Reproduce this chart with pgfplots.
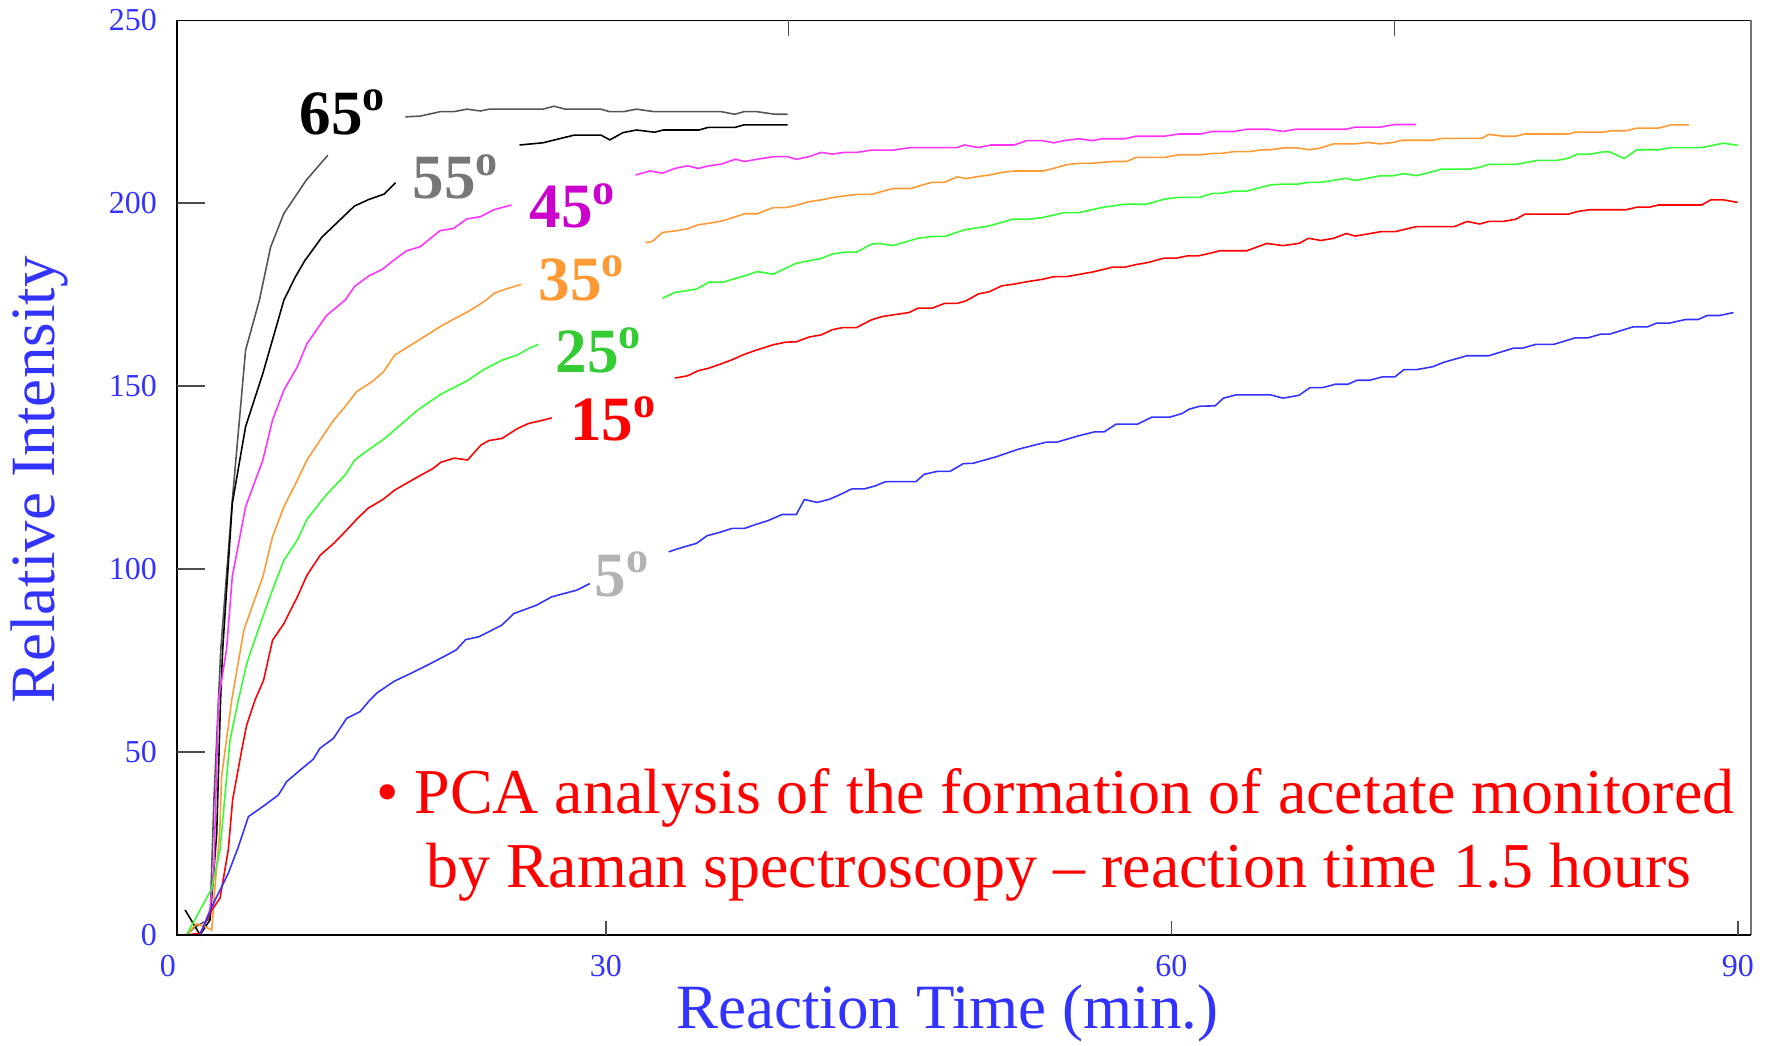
\documentclass[border=0pt]{standalone}
\usepackage{fontspec}
\setmainfont{Liberation Serif}
\usepackage{pgfplots}
\pgfplotsset{compat=1.18}
\definecolor{axblue}{RGB}{51,51,255}
\definecolor{cgray}{RGB}{85,85,85}
\definecolor{cmag}{RGB}{255,51,255}
\definecolor{lmag}{RGB}{204,0,204}
\definecolor{corange}{RGB}{255,153,51}
\definecolor{cgreen}{RGB}{51,255,51}
\definecolor{lgreen}{RGB}{51,204,51}
\definecolor{cred}{RGB}{255,0,0}
\definecolor{cblue}{RGB}{51,51,255}
\definecolor{lgray}{RGB}{179,179,179}
\definecolor{lfive}{RGB}{119,119,119}
\newcommand{\lab}{\fontsize{14}{16}\selectfont\bfseries}
\begin{document}
\begin{tikzpicture}
\begin{axis}[name=ax, scale only axis, width=349.5pt, height=203pt,
  xmin=0, xmax=90, ymin=0, ymax=250, clip=false,
  axis line style={draw=none},
  tick pos=left, tick align=inside,
  xtick={24.53,56.85,89.23}, xticklabels={30,60,90},
  extra x ticks={0}, extra x tick labels={0},
  extra x tick style={xticklabel style={xshift=-2pt}},
  xtick style={draw=none},
  ytick={0,50,100,150,200,250},
  ytick style={draw=none},
  /pgf/number format/assume math mode=true,
  yticklabel style={font=\fontsize{7.1}{8}\selectfont, text=axblue, inner sep=0pt, xshift=-4.25pt},
  xticklabel style={font=\fontsize{7.1}{8}\selectfont, text=axblue, inner sep=0pt, yshift=-4.4pt},
  no markers,
  every axis plot/.append style={line width=0.35pt},
]
% 65 deg
\addplot[cgray] coordinates {(0.56,0) (1.04,2.2) (1.61,3.6) (1.90,4.5) (2.12,36.9) (2.38,64.2) (2.51,77.9) (3.17,118.8) (3.93,159.8) (4.72,173.5) (5.36,188) (6.12,197.2) (7.40,206.3) (8.63,213.1)};
\addplot[cgray] coordinates {(13.06,223.6) (13.91,223.8) (15.05,225) (15.82,225) (16.58,225.7) (17.35,225.2) (17.86,225.7) (20.92,225.7) (21.56,226.5) (22.20,225.7) (24.24,225.7) (24.75,225) (25.51,225) (26.28,225.7) (27.30,225) (31.13,225) (31.89,224.3) (32.41,225) (33.17,225) (34.19,224.3) (34.91,224.3)};
% 55 deg
\addplot[black] coordinates {(0.47,6.8) (1.33,0) (1.90,4.1) (2.28,27.7) (2.50,64.2) (2.62,77.9) (3.17,117.9) (3.93,138.9) (4.92,153.5) (6.12,173.5) (6.78,179.9) (7.33,184.4) (7.76,187.2) (8.29,190.7) (10.15,199.2) (10.97,201) (11.86,202.5) (12.50,205.6)};
\addplot[black] coordinates {(19.59,215.9) (20.92,216.5) (22.71,218.6) (24.24,218.6) (24.75,217.3) (25.51,219.3) (26.28,220) (27.30,219.4) (27.81,220) (29.85,220) (30.36,220.7) (31.89,220.7) (32.41,221.4) (34.91,221.4)};
% 45 deg
\addplot[cmag] coordinates {(0.56,0) (1.33,0) (1.90,6.8) (2.12,18.6) (2.38,64.2) (2.84,77.9) (3.17,97.9) (3.93,117) (4.92,129.8) (5.47,140.7) (6.12,148.9) (6.89,155.3) (7.44,161.6) (8.56,169.3) (9.62,173.5) (10.17,177.3) (10.97,180.1) (11.74,181.9) (12.37,184.3) (13.14,187) (13.91,188.1) (15.05,192.5) (15.82,193.1) (16.58,195.7) (17.35,196.3) (18.12,198.2) (19.13,199.5)};
\addplot[cmag] coordinates {(26.22,207.7) (27.05,208.8) (27.76,208.2) (28.47,209.5) (29.19,210.2) (29.80,209.5) (30.41,210.2) (31.13,210.7) (31.94,212.0) (32.45,211.4) (33.17,212.0) (34.09,212.7) (34.91,212.7) (35.41,212.0) (36.13,212.7) (36.84,213.9) (37.46,213.4) (38.17,213.9) (38.89,213.9) (39.70,214.5) (40.93,214.5) (41.95,215.2) (44.60,215.2) (45.01,215.9) (45.82,215.2) (46.54,215.9) (47.87,215.9) (48.58,217.1) (49.50,217.1) (50.11,216.5) (50.72,217.1) (51.54,217.6) (52.36,217.1) (52.87,217.6) (54.19,217.6) (54.81,218.3) (56.44,218.3) (57.26,218.9) (58.48,218.9) (59.20,219.6) (60.44,219.6) (61.16,220.2) (62.40,220.2) (63.23,219.6) (63.95,220.2) (66.84,220.2) (67.35,220.8) (68.80,220.8) (69.62,221.5) (70.82,221.5)};
% 35 deg
\addplot[corange] coordinates {(0.56,0) (1.13,3) (1.61,2.2) (2.00,1.3) (2.18,13.2) (2.45,27.7) (2.56,43.2) (3.14,64.2) (3.83,83.3) (4.37,90.6) (4.92,97.9) (5.47,108.8) (6.12,117) (6.89,124.3) (7.44,129.8) (8.20,135.3) (8.97,140.7) (9.62,144.4) (10.28,148.5) (11.16,151.2) (11.81,153.9) (12.46,158.5) (13.78,162.4) (14.44,164.4) (15.10,166.4) (15.75,168.1) (16.62,170.3) (17.28,172.2) (17.72,173.7) (18.15,175.4) (18.92,176.7) (19.69,177.8)};
\addplot[corange] coordinates {(26.79,189.2) (27.17,189.5) (27.76,192.0) (28.47,192.4) (29.19,193.0) (29.80,194.1) (30.41,194.5) (31.13,195.1) (31.74,196.0) (32.45,197.1) (33.17,197.1) (34.09,198.8) (34.80,198.8) (35.41,199.4) (36.13,200.4) (36.84,200.9) (37.46,201.5) (38.17,202.0) (38.85,202.4) (39.70,202.4) (40.31,203.2) (40.93,204.0) (41.95,204.0) (42.56,204.9) (43.17,205.7) (43.89,205.7) (44.60,207.2) (45.11,206.7) (45.82,207.3) (46.44,207.7) (47.15,208.4) (47.87,208.8) (49.50,208.8) (50.11,209.5) (50.83,210.5) (51.54,210.9) (52.36,210.9) (52.97,211.2) (53.58,211.4) (54.30,211.4) (54.81,212.5) (56.44,212.5) (57.26,213.2) (58.48,213.2) (59.20,213.6) (59.71,213.6) (60.44,214.1) (61.27,214.1) (62.09,214.6) (62.51,214.6) (63.23,215.1) (64.05,215.1) (64.68,214.6) (65.30,215.0) (66.12,216.2) (67.36,216.2) (68.08,216.6) (68.80,216.2) (69.52,216.6) (70.04,217.2) (71.79,217.2) (72.30,217.7) (74.58,217.7) (74.99,218.8) (75.81,218.3) (76.53,218.3) (77.05,218.9) (79.53,218.9) (79.94,219.4) (81.49,219.4) (82.00,219.8) (82.83,219.8) (83.45,220.5) (84.68,220.5) (85.41,221.4) (86.44,221.4)};
% 25 deg
\addplot[cgreen] coordinates {(0.56,0) (1.33,6.8) (2.00,12.7) (2.47,23.2) (3.04,53.2) (3.52,64.2) (3.99,74) (4.26,77.9) (4.92,87) (5.47,94.3) (6.12,102.4) (6.89,107.9) (7.44,113.6) (8.53,120.2) (9.62,125.7) (10.17,129.8) (10.93,132.5) (11.81,135.4) (13.78,143.5) (15.10,147.8) (16.62,151.5) (17.50,154.4) (18.59,157.1) (19.47,158.5) (20.12,160.3) (20.67,161.4)};
\addplot[cgreen] coordinates {(27.76,174.0) (28.47,175.6) (29.70,176.5) (30.41,178.4) (31.23,178.4) (31.84,179.3) (32.45,180.1) (33.17,181.3) (34.09,180.6) (35.41,183.6) (36.84,184.9) (37.46,186.1) (38.17,186.6) (38.85,186.6) (39.70,188.8) (40.11,189.0) (40.93,188.4) (42.36,190.4) (43.17,190.9) (43.89,190.9) (45.01,192.7) (46.44,193.8) (47.77,195.6) (48.68,195.6) (49.50,196.1) (50.72,197.4) (51.54,197.4) (52.97,198.9) (54.19,199.7) (55.42,199.7) (56.44,201.1) (57.26,201.6) (58.48,201.6) (59.20,202.7) (59.71,202.7) (60.44,203.3) (61.16,203.3) (62.51,205.0) (63.23,205.2) (64.05,205.2) (64.68,205.7) (65.40,205.7) (66.84,206.8) (67.36,206.2) (68.80,207.5) (69.52,207.5) (70.14,208.1) (70.86,207.5) (72.30,209.3) (73.85,209.3) (74.47,209.8) (74.99,210.6) (76.53,210.6) (77.78,211.7) (78.91,211.7) (79.53,212.3) (80.04,213.4) (80.76,213.4) (81.49,214.0) (81.90,214.0) (82.73,212.2) (83.45,214.6) (84.68,214.6) (85.41,215.2) (87.16,215.2) (88.40,216.4) (89.22,215.8)};
% 15 deg
\addplot[cred] coordinates {(0.56,0) (1.33,0.4) (2.00,6.8) (2.47,10) (2.94,23.2) (3.19,36.9) (3.71,50.5) (3.99,57.3) (4.47,64.2) (4.96,69.6) (5.47,80.5) (6.12,85.1) (6.89,92.4) (7.44,98.3) (8.20,103.8) (8.97,107) (9.62,110.2) (10.28,113.6) (10.93,116.6) (11.81,119.1) (12.46,121.6) (13.78,125.2) (14.65,127.5) (15.10,129.2) (15.86,130.3) (16.62,129.8) (17.39,133.9) (17.83,135.1) (18.59,135.7) (19.47,138.4) (20.12,139.8) (20.78,140.5) (21.43,141.3)};
\addplot[cred] coordinates {(28.47,152.2) (29.19,152.8) (29.80,154.2) (30.41,154.9) (31.13,156.1) (31.74,157.2) (32.45,158.7) (33.17,159.9) (34.09,161.3) (34.80,162.0) (35.41,162.1) (36.13,163.4) (36.84,164.0) (37.46,165.4) (38.07,166.0) (38.85,166.0) (39.70,168.1) (40.31,169.0) (41.13,169.6) (41.85,170.1) (42.36,171.3) (43.17,171.3) (43.89,172.6) (44.60,172.6) (45.11,173.3) (45.82,175.2) (46.44,175.8) (47.15,177.4) (47.87,177.9) (48.68,178.6) (49.50,179.2) (50.11,179.9) (50.83,179.9) (51.54,180.5) (52.36,181.2) (53.48,182.5) (54.19,182.5) (54.81,183.2) (55.53,183.8) (56.44,185.0) (57.16,185.0) (57.77,185.6) (58.39,185.6) (59.05,186.3) (59.61,187.0) (61.16,187.0) (62.30,189.0) (63.23,188.4) (64.15,189.0) (64.68,190.4) (65.40,189.8) (66.12,190.4) (66.84,191.7) (67.36,191.0) (68.80,192.2) (69.62,192.2) (70.86,193.6) (73.03,193.6) (73.75,195.0) (74.47,194.3) (74.99,195.0) (75.81,195.0) (76.53,195.6) (77.05,197.0) (79.53,197.0) (80.14,197.8) (80.76,198.2) (82.83,198.2) (83.45,198.9) (84.17,198.9) (84.68,199.5) (87.16,199.5) (87.68,200.9) (88.40,200.9) (89.22,200.2)};
% 5 deg
\addplot[cblue] coordinates {(0.56,0) (1.33,0) (2.00,7.7) (2.28,10.4) (2.94,16.8) (3.52,24.1) (4.09,32.3) (5.04,35.5) (5.80,38.2) (6.28,41.9) (7.04,45) (7.80,48) (8.18,51) (8.95,53.7) (9.71,59.2) (10.47,61) (11.04,64.2) (11.46,66.2) (12.42,69.3) (13.39,71.5) (14.36,73.8) (15.32,76.2) (15.97,77.9) (16.51,80.7) (17.28,81.5) (18.59,84.7) (19.25,87.8) (20.56,90.1) (21.43,92.4) (22.85,94.2) (23.6,96.0)};
\addplot[cblue] coordinates {(28.11,104.7) (28.88,105.9) (29.70,107.0) (30.31,109.1) (31.02,110.0) (31.74,111.1) (32.45,111.1) (33.17,112.3) (33.78,113.2) (34.60,114.9) (35.41,114.9) (35.87,119.0) (36.60,118.2) (37.26,119.0) (37.76,120.0) (38.58,121.9) (39.30,121.9) (39.91,122.7) (40.52,123.9) (42.25,123.9) (42.72,125.9) (43.48,126.7) (44.20,126.7) (44.95,128.8) (45.52,128.9) (46.85,130.7) (48.07,132.7) (48.89,133.7) (49.71,134.7) (50.32,134.7) (51.54,136.4) (52.46,137.5) (53.01,137.5) (53.69,139.6) (54.91,139.6) (55.73,141.5) (56.75,141.5) (57.46,142.5) (57.87,143.7) (58.48,144.5) (59.35,144.6) (59.82,146.7) (60.55,147.6) (62.51,147.6) (63.23,146.7) (64.15,147.5) (64.78,149.6) (65.50,149.6) (66.22,150.5) (66.94,150.5) (67.46,151.6) (68.18,151.6) (68.90,152.5) (69.62,152.5) (70.14,154.5) (70.86,154.5) (71.79,155.3) (72.41,156.5) (73.75,158.3) (74.99,158.3) (76.43,160.4) (76.94,160.4) (77.67,161.4) (78.70,161.4) (79.94,163.2) (80.66,163.2) (81.39,164.2) (81.90,164.2) (83.24,166.2) (84.06,166.2) (84.58,167.2) (85.31,167.2) (86.24,168.2) (86.96,168.2) (87.47,169.3) (88.19,169.3) (88.98,170.1)};
% frame
\draw[black, line width=0.3pt] (rel axis cs:0,1) -- (rel axis cs:1,1);
\draw[black!55, line width=0.45pt] (rel axis cs:1,1) -- (rel axis cs:1,0);
\draw[black, line width=0.5pt] (rel axis cs:0,1) -- (rel axis cs:0,0) -- (rel axis cs:1,0);
\draw[black!70, line width=0.55pt] (axis cs:0,50) -- (axis cs:1.61,50);
\draw[black!70, line width=0.55pt] (axis cs:0,100) -- (axis cs:1.61,100);
\draw[black!70, line width=0.55pt] (axis cs:0,150) -- (axis cs:1.61,150);
\draw[black!70, line width=0.55pt] (axis cs:0,200) -- (axis cs:1.61,200);
\draw[black!70, line width=0.3pt] (axis cs:24.53,0) -- (axis cs:24.53,3.7);
\draw[black!70, line width=0.3pt] (axis cs:56.85,0) -- (axis cs:56.85,3.7);
\draw[black!70, line width=0.3pt] (axis cs:89.23,0) -- (axis cs:89.23,3.7);
\draw[black!70, line width=0.3pt] (axis cs:34.96,250) -- (axis cs:34.96,245.7);
\draw[black!70, line width=0.3pt] (axis cs:69.59,250) -- (axis cs:69.59,245.7);
% curve labels
\node[text=black, font=\lab] at (axis cs:9.53,224.8) {65\textsuperscript{o}};
\node[text=lfive, font=\lab] at (axis cs:15.97,207.2) {55\textsuperscript{o}};
\node[text=lmag, font=\lab] at (axis cs:22.66,199.2) {45\textsuperscript{o}};
\node[text=corange, font=\lab] at (axis cs:23.18,179.5) {35\textsuperscript{o}};
\node[text=lgreen, font=\lab] at (axis cs:24.14,159.8) {25\textsuperscript{o}};
\node[text=cred, font=\lab] at (axis cs:24.98,141.0) {15\textsuperscript{o}};
\node[text=lgray, font=\lab] at (axis cs:25.49,98.5) {5\textsuperscript{o}};
% annotation
\node[anchor=base, text=cred, font=\fontsize{14.2}{17}\selectfont, inner sep=0pt] at (axis cs:50.21,33.25) {\textbullet\ PCA analysis of the formation of acetate monitored};
\node[anchor=base, text=cred, font=\fontsize{14.2}{17}\selectfont, inner sep=0pt] at (axis cs:50.41,12.93) {by Raman spectroscopy -- reaction time 1.5 hours};
% axis labels
\node[text=axblue, font=\fontsize{14}{16}\selectfont] at (axis cs:44.04,-21.55) {Reaction Time (min.)};
\node[text=axblue, font=\fontsize{14}{16}\selectfont, rotate=90] at (axis cs:-7.85,124.4) {Relative Intensity};
\end{axis}
\pgfresetboundingbox
\path[use as bounding box] ([shift={(-39.25pt,-24.5pt)}]ax.south west) rectangle ([shift={(3.25pt,4.5pt)}]ax.north east);
\end{tikzpicture}
\end{document}
